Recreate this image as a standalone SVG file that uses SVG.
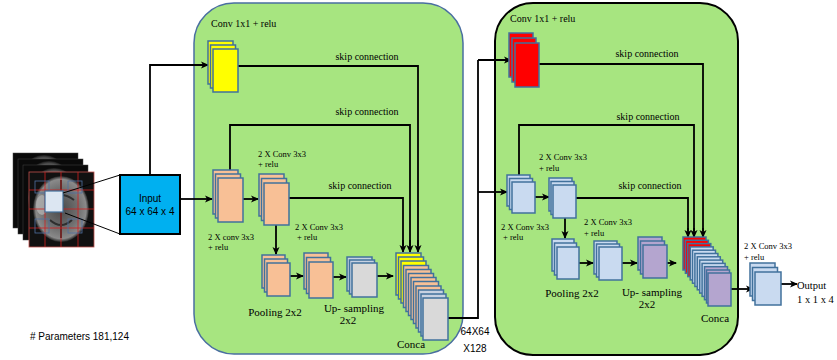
<svg xmlns="http://www.w3.org/2000/svg" width="837" height="360" viewBox="0 0 837 360">
<defs>
<marker id="ah" markerWidth="8" markerHeight="8" refX="7" refY="4" orient="auto" markerUnits="userSpaceOnUse">
<path d="M0,0.5 L8,4 L0,7.5 L2,4 Z" fill="#000"/>
</marker>
<radialGradient id="brain" cx="0.5" cy="0.5" r="0.5">
<stop offset="0" stop-color="#4a4a4a"/><stop offset="0.6" stop-color="#6e6e6e"/><stop offset="0.9" stop-color="#8a8a8a"/><stop offset="1" stop-color="#222"/>
</radialGradient>
<style>
.t{font-family:"Liberation Serif",serif;fill:#000}
.s{font-family:"Liberation Sans",Arial,sans-serif;fill:#000}
.c{fill:none;stroke:#000;stroke-width:1.8}
.a{fill:none;stroke:#000;stroke-width:1.8;marker-end:url(#ah)}
.st rect{stroke:#41719c;stroke-width:1.5}
.y{fill:#ffff00}.o{fill:#f8c096}.g{fill:#d9d9d9}.b{fill:#c9daf0}.r{fill:#ff0000}.p{fill:#b4a5cf}.gb{fill:#c7d2e2}
</style>
</defs>
<rect width="837" height="360" fill="#fff"/>

<!-- Input images -->
<g id="mri">
<rect x="13" y="153" width="65" height="75" fill="#0a0a0a" stroke="#444" stroke-width="0.5"/>
<ellipse cx="44" cy="185" rx="26" ry="30" fill="url(#brain)" opacity="0.6"/>
<rect x="18" y="159" width="65" height="75" fill="#0a0a0a" stroke="#444" stroke-width="0.5"/>
<ellipse cx="49" cy="191" rx="26" ry="30" fill="url(#brain)" opacity="0.6"/>
<rect x="23" y="165" width="65" height="75" fill="#0a0a0a" stroke="#444" stroke-width="0.5"/>
<ellipse cx="54" cy="198" rx="26" ry="30" fill="url(#brain)" opacity="0.6"/>
<rect x="29" y="172" width="65" height="75" fill="#111" stroke="#c0504d" stroke-width="0.8"/>
<ellipse cx="61" cy="209" rx="28" ry="33" fill="url(#brain)"/>
<ellipse cx="42" cy="205" rx="6" ry="10" fill="#b8b8b8" opacity="0.7"/>
<path d="M48,200 Q61,190 74,200 M50,220 Q61,230 72,220 M61,180 V238" stroke="#2e2e2e" stroke-width="2" fill="none"/>
<g stroke="#d02020" stroke-width="0.8">
<line x1="45" y1="172" x2="45" y2="247"/><line x1="61" y1="172" x2="61" y2="247"/><line x1="78" y1="172" x2="78" y2="247"/>
<line x1="29" y1="190" x2="94" y2="190"/><line x1="29" y1="209" x2="94" y2="209"/><line x1="29" y1="228" x2="94" y2="228"/>
</g>
<g fill="none" stroke="#4f6fa0" stroke-width="0.8">
<rect x="35" y="181" width="14" height="12"/><rect x="68" y="181" width="14" height="12"/>
<rect x="35" y="219" width="14" height="14"/><rect x="68" y="219" width="14" height="14"/>
</g>
<rect x="45" y="191" width="18" height="21" fill="#dce6f2" stroke="#41719c" stroke-width="1.2"/>
<line x1="63" y1="193" x2="120" y2="175" stroke="#000" stroke-width="1"/>
<line x1="65" y1="213" x2="120" y2="234" stroke="#000" stroke-width="1"/>
</g>

<!-- Green boxes -->
<g id="block1">
<rect x="194" y="3" width="269" height="351" rx="40" fill="#a7e580" stroke="#4a6fa0" stroke-width="1.5"/>
</g>
<g id="block2">
<rect x="495" y="3" width="243" height="352" rx="38" fill="#a7e580" stroke="#000" stroke-width="2"/>
</g>

<g id="input">
<rect x="120" y="175" width="60" height="59" fill="#00b0f0" stroke="#000" stroke-width="2"/>
<text class="s" x="150" y="202" font-size="10" text-anchor="middle">Input</text>
<text class="s" x="150" y="215" font-size="10" text-anchor="middle">64 x 64 x 4</text>
</g>

<!-- Connectors -->
<g id="connectors">
<path class="a" d="M150,175 V65 H208"/>
<path class="a" d="M180,199 H212"/>
<path class="c" d="M238,66 H418 V246"/><path class="a" d="M418,240 V252"/>
<path class="c" d="M230,179 V125 H410 V246"/><path class="a" d="M410,240 V252"/>
<path class="c" d="M289,198 H403 V246"/><path class="a" d="M403,240 V252"/>
<path class="a" d="M243,199 H258"/>
<path class="a" d="M276,225 V254"/>
<path class="a" d="M290,276 H303"/>
<path class="a" d="M333,277 H346"/>
<path class="a" d="M377,276 H393"/>
<path class="c" d="M448,318 H478 V60"/><path class="a" d="M478,60 H511"/>
<path class="a" d="M478,192 H507"/>
<path class="c" d="M539,64 H703 V231"/><path class="a" d="M703,228 V237"/>
<path class="c" d="M519,182 V125 H694 V231"/><path class="a" d="M694,228 V237"/>
<path class="c" d="M576,198 H688 V231"/><path class="a" d="M688,228 V237"/>
<path class="a" d="M535,197 H549"/>
<path class="a" d="M565,218 V238"/>
<path class="a" d="M579,263 H593"/>
<path class="a" d="M622,263 H637"/>
<path class="a" d="M667,263 H676"/>
<path class="a" d="M731,289 H753"/>
<path class="a" d="M781,284 H797"/>
</g>

<!-- Block 1 nodes -->
<g id="conv1x1_a" class="st">
<rect class="y" x="208" y="41" width="25" height="43"/><rect class="y" x="210.5" y="45" width="25" height="43"/><rect class="y" x="213" y="49" width="25" height="43"/>
</g>
<g id="conv_a1" class="st">
<rect class="o" x="213" y="170" width="25" height="44"/><rect class="o" x="215.5" y="174" width="25" height="44"/><rect class="o" x="218" y="178" width="25" height="44"/>
</g>
<g id="conv_a2" class="st">
<rect class="o" x="259" y="174" width="25" height="42"/><rect class="o" x="261.5" y="178.5" width="25" height="42"/><rect class="o" x="264" y="183" width="25" height="42"/>
</g>
<g id="pool_a" class="st">
<rect class="o" x="262" y="255" width="23" height="33"/><rect class="o" x="264.5" y="259" width="23" height="33"/><rect class="o" x="267" y="263" width="23" height="33"/>
</g>
<g id="conv_a3" class="st">
<rect class="o" x="304" y="253" width="24" height="36"/><rect class="o" x="306.5" y="257.5" width="24" height="36"/><rect class="o" x="309" y="262" width="24" height="36"/>
</g>
<g id="up_a" class="st">
<rect class="gb" x="347" y="257" width="25" height="34"/><rect class="gb" x="349.5" y="260" width="25" height="34"/><rect class="g" x="352" y="263" width="25" height="34"/>
</g>
<g id="concat_a" class="st">
<rect class="y" x="396" y="253" width="25" height="42"/>
<rect class="y" x="398.5" y="257" width="25" height="42"/>
<rect class="y" x="401" y="261" width="25" height="42"/>
<rect class="o" x="403.5" y="265.5" width="25" height="42"/>
<rect class="o" x="406" y="269.5" width="25" height="42"/>
<rect class="o" x="408.5" y="273.5" width="25" height="42"/>
<rect class="o" x="411" y="277.5" width="25" height="42"/>
<rect class="o" x="413.5" y="281.5" width="25" height="42"/>
<rect class="o" x="416" y="286" width="25" height="42"/>
<rect class="gb" x="418.5" y="290" width="25" height="42"/>
<rect class="gb" x="421" y="294" width="25" height="42"/>
<rect class="g" x="423" y="298" width="25" height="42"/>
</g>

<!-- Block 2 nodes -->
<g id="conv1x1_b" class="st">
<rect class="r" x="509" y="33" width="24" height="44"/><rect class="r" x="512" y="38" width="24" height="44"/><rect class="r" x="515" y="43" width="24" height="44"/>
</g>
<g id="conv_b1" class="st">
<rect class="b" x="507" y="175" width="23" height="31"/><rect class="b" x="509.5" y="178.5" width="23" height="31"/><rect class="b" x="512" y="182" width="23" height="31"/>
</g>
<g id="conv_b2" class="st">
<rect class="b" x="549" y="178" width="23" height="33"/><rect class="b" x="551" y="181.5" width="23" height="33"/><rect class="b" x="553" y="185" width="23" height="33"/>
</g>
<g id="pool_b" class="st">
<rect class="b" x="552" y="239" width="22" height="32"/><rect class="b" x="554.5" y="243" width="22" height="32"/><rect class="b" x="557" y="247" width="22" height="32"/>
</g>
<g id="conv_b3" class="st">
<rect class="b" x="594" y="241" width="23" height="33"/><rect class="b" x="596.5" y="244" width="23" height="33"/><rect class="b" x="599" y="247" width="23" height="33"/>
</g>
<g id="up_b" class="st">
<rect class="p" x="638" y="237" width="24" height="33"/><rect class="p" x="640.5" y="241" width="24" height="33"/><rect class="p" x="643" y="245" width="24" height="33"/>
</g>
<g id="concat_b" class="st">
<rect class="r" x="683" y="237" width="23" height="33"/>
<rect class="r" x="685.4" y="240.3" width="23" height="33"/>
<rect class="r" x="687.8" y="243.6" width="23" height="33"/>
<rect class="b" x="690.2" y="246.9" width="23" height="33"/>
<rect class="b" x="692.5" y="250.2" width="23" height="33"/>
<rect class="b" x="694.9" y="253.5" width="23" height="33"/>
<rect class="b" x="697.3" y="256.8" width="23" height="33"/>
<rect class="b" x="699.7" y="260.1" width="23" height="33"/>
<rect class="b" x="702.1" y="263.4" width="23" height="33"/>
<rect class="p" x="704.5" y="266.7" width="23" height="33"/>
<rect class="p" x="706.5" y="270" width="23" height="33"/>
<rect class="p" x="708" y="273" width="23" height="33"/>
</g>

<g id="output_conv" class="st">
<rect class="b" x="750" y="263" width="25" height="33"/><rect class="b" x="752.5" y="267.5" width="25" height="33"/><rect class="b" x="755" y="272" width="26" height="33"/>
</g>

<!-- Labels -->
<g id="labels">
<text class="t" x="211" y="27" font-size="10">Conv 1x1 + relu</text>
<text class="t" x="367" y="60" font-size="10" text-anchor="middle">skip connection</text>
<text class="t" x="367" y="115" font-size="10" text-anchor="middle">skip connection</text>
<text class="t" x="360" y="189" font-size="10" text-anchor="middle">skip connection</text>
<text class="t" x="258" y="157" font-size="8.5">2 X Conv 3x3</text>
<text class="t" x="258" y="167" font-size="8.5">+ relu</text>
<text class="t" x="208" y="240" font-size="8.5">2 X conv 3x3</text>
<text class="t" x="208" y="250" font-size="8.5">+ relu</text>
<text class="t" x="295" y="230" font-size="8.5">2 X Conv 3x3</text>
<text class="t" x="297" y="240" font-size="8.5">+ relu</text>
<text class="t" x="275" y="316" font-size="11" text-anchor="middle">Pooling 2x2</text>
<text class="t" x="354" y="312" font-size="11" text-anchor="middle">Up- sampling</text>
<text class="t" x="348" y="324" font-size="11" text-anchor="middle">2x2</text>
<text class="t" x="411" y="348" font-size="11" text-anchor="middle">Conca</text>
<text class="s" x="475" y="335" font-size="10" text-anchor="middle">64X64</text>
<text class="s" x="475" y="352" font-size="10" text-anchor="middle">X128</text>

<text class="t" x="510" y="22" font-size="10">Conv 1x1 + relu</text>
<text class="t" x="647" y="57" font-size="10" text-anchor="middle">skip connection</text>
<text class="t" x="648" y="120" font-size="10" text-anchor="middle">skip connection</text>
<text class="t" x="650" y="189" font-size="10" text-anchor="middle">skip connection</text>
<text class="t" x="539" y="160" font-size="8.5">2 X Conv 3x3</text>
<text class="t" x="539" y="171" font-size="8.5">+ relu</text>
<text class="t" x="501" y="230" font-size="8.5">2 X Conv 3x3</text>
<text class="t" x="503" y="240" font-size="8.5">+ relu</text>
<text class="t" x="584" y="225" font-size="8.5">2 X Conv 3x3</text>
<text class="t" x="584" y="236" font-size="8.5">+ relu</text>
<text class="t" x="572" y="297" font-size="11" text-anchor="middle">Pooling 2x2</text>
<text class="t" x="652" y="296" font-size="11" text-anchor="middle">Up- sampling</text>
<text class="t" x="647" y="308" font-size="11" text-anchor="middle">2x2</text>
<text class="t" x="715" y="322" font-size="11" text-anchor="middle">Conca</text>

<text class="t" x="744" y="249" font-size="8.5">2 X Conv 3x3</text>
<text class="t" x="744" y="260" font-size="8.5">+ relu</text>
<text class="t" x="797" y="289" font-size="10.5">Output</text>
<text class="t" x="797" y="303" font-size="10.5">1 x 1 x 4</text>
<text class="s" x="30" y="340" font-size="10">#  Parameters 181,124</text>
</g>
</svg>
